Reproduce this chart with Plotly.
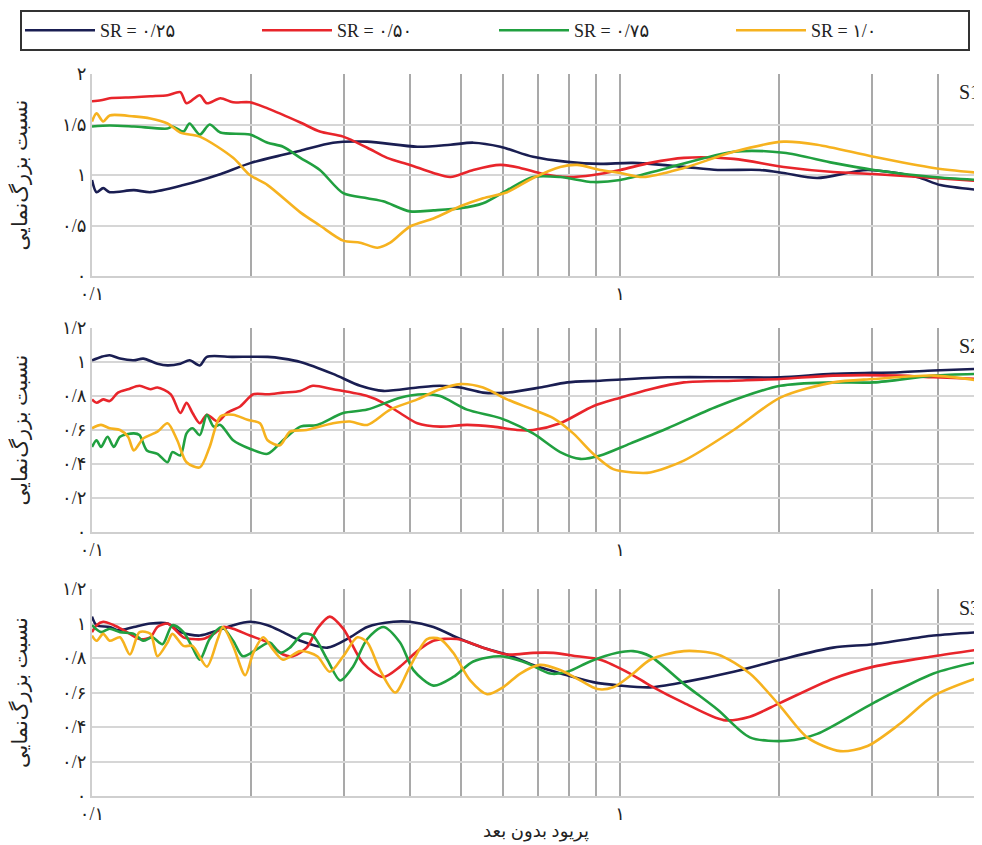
import plotly.graph_objects as go
from plotly.subplots import make_subplots
import math

# ---------------- data (period, amplification ratio) ----------------
series_names = ["SR = ۰/۲۵", "SR = ۰/۵۰", "SR = ۰/۷۵", "SR = ۱/۰"]
series_colors = ["#1a1e52", "#e8252b", "#21a040", "#f6b21f"]

# S1
s1_navy_T = [0.1, 0.102, 0.105, 0.108, 0.12, 0.129, 0.149, 0.173, 0.2, 0.23, 0.248, 0.286, 0.332, 0.413,
             0.477, 0.527, 0.593, 0.684, 0.794, 0.917, 1.058, 1.32, 1.53, 1.84, 2.04, 2.36, 2.94, 3.65, 4.04, 4.8]
s1_navy_y = [0.95, 0.83, 0.87, 0.83, 0.85, 0.83, 0.90, 1.00, 1.12, 1.20, 1.24, 1.32, 1.33, 1.28,
             1.30, 1.32, 1.28, 1.18, 1.13, 1.11, 1.12, 1.08, 1.05, 1.05, 1.02, 0.97, 1.05, 0.98, 0.90, 0.85]

s1_red_T = [0.1, 0.104, 0.108, 0.12, 0.129, 0.139, 0.147, 0.151, 0.160, 0.165, 0.175, 0.185, 0.199, 0.215,
            0.248, 0.270, 0.299, 0.332, 0.362, 0.400, 0.443, 0.477, 0.527, 0.593, 0.647, 0.715, 0.794, 0.889,
            1.0, 1.14, 1.32, 1.64, 2.04, 2.53, 3.02, 3.92, 4.8]
s1_red_y = [1.73, 1.74, 1.76, 1.77, 1.78, 1.79, 1.82, 1.71, 1.79, 1.71, 1.76, 1.72, 1.72, 1.66,
            1.52, 1.43, 1.38, 1.27, 1.17, 1.10, 1.02, 0.98, 1.05, 1.10, 1.07, 1.01, 0.98, 1.00,
            1.05, 1.12, 1.17, 1.16, 1.08, 1.03, 1.01, 0.97, 0.94]

s1_green_T = [0.1, 0.108, 0.12, 0.139, 0.142, 0.149, 0.153, 0.160, 0.167, 0.175, 0.199, 0.215, 0.230, 0.248,
              0.270, 0.299, 0.332, 0.356, 0.400, 0.443, 0.498, 0.550, 0.611, 0.684, 0.770, 0.889, 1.0, 1.23,
              1.64, 2.04, 2.53, 3.02, 3.92, 4.8]
s1_green_y = [1.48, 1.49, 1.48, 1.46, 1.48, 1.43, 1.51, 1.40, 1.50, 1.42, 1.40, 1.32, 1.28, 1.17,
              1.05, 0.82, 0.77, 0.74, 0.64, 0.65, 0.67, 0.72, 0.85, 0.98, 0.98, 0.93, 0.95, 1.07,
              1.23, 1.22, 1.12, 1.05, 0.98, 0.95]

s1_orange_T = [0.1, 0.102, 0.105, 0.108, 0.12, 0.129, 0.139, 0.147, 0.160, 0.185, 0.199, 0.215, 0.248, 0.270,
               0.299, 0.322, 0.347, 0.367, 0.400, 0.443, 0.498, 0.550, 0.611, 0.684, 0.770, 0.829, 0.917, 1.0,
               1.106, 1.32, 1.64, 2.04, 2.36, 3.02, 3.92, 4.8]
s1_orange_y = [1.53, 1.61, 1.53, 1.59, 1.58, 1.56, 1.51, 1.42, 1.38, 1.17, 1.00, 0.90, 0.63, 0.50,
               0.35, 0.33, 0.28, 0.33, 0.49, 0.57, 0.69, 0.77, 0.83, 0.97, 1.08, 1.10, 1.05, 1.02,
               0.98, 1.07, 1.23, 1.33, 1.30, 1.18, 1.07, 1.02]

# S2
s2_navy_T = [0.1, 0.104, 0.108, 0.113, 0.12, 0.125, 0.133, 0.139, 0.147, 0.153, 0.160, 0.165, 0.185, 0.215,
             0.230, 0.248, 0.286, 0.322, 0.356, 0.413, 0.456, 0.498, 0.550, 0.611, 0.705, 0.794, 0.917, 1.23,
             1.64, 2.01, 2.53, 3.39, 3.92, 4.8]
s2_navy_y = [1.01, 1.03, 1.04, 1.02, 1.01, 1.02, 0.99, 0.98, 0.99, 1.01, 0.98, 1.03, 1.03, 1.03,
             1.02, 1.00, 0.93, 0.86, 0.83, 0.85, 0.86, 0.85, 0.82, 0.82, 0.85, 0.88, 0.89, 0.91,
             0.91, 0.91, 0.93, 0.94, 0.95, 0.96]

s2_red_T = [0.1, 0.102, 0.105, 0.108, 0.112, 0.117, 0.123, 0.129, 0.133, 0.141, 0.147, 0.151, 0.155, 0.160,
            0.165, 0.173, 0.180, 0.191, 0.202, 0.215, 0.230, 0.248, 0.262, 0.286, 0.332, 0.356, 0.383, 0.413,
            0.456, 0.513, 0.575, 0.638, 0.684, 0.770, 0.889, 1.0, 1.14, 1.32, 1.64, 2.01, 2.53, 3.39, 3.92, 4.8]
s2_red_y = [0.78, 0.76, 0.78, 0.77, 0.82, 0.84, 0.86, 0.84, 0.85, 0.81, 0.70, 0.76, 0.70, 0.64,
            0.69, 0.65, 0.70, 0.74, 0.81, 0.81, 0.82, 0.83, 0.86, 0.84, 0.80, 0.76, 0.70, 0.64,
            0.62, 0.63, 0.62, 0.60, 0.60, 0.64, 0.74, 0.79, 0.84, 0.88, 0.89, 0.90, 0.92, 0.92, 0.91, 0.90]

s2_green_T = [0.1, 0.102, 0.104, 0.107, 0.110, 0.113, 0.12, 0.123, 0.127, 0.133, 0.139, 0.142, 0.147, 0.151,
              0.155, 0.160, 0.165, 0.170, 0.175, 0.185, 0.199, 0.215, 0.230, 0.248, 0.267, 0.299, 0.332, 0.383,
              0.424, 0.456, 0.513, 0.593, 0.684, 0.770, 0.840, 0.917, 1.044, 1.23, 1.53, 2.01, 2.53, 3.02,
              3.92, 4.8]
s2_green_y = [0.50, 0.54, 0.50, 0.56, 0.50, 0.56, 0.58, 0.57, 0.48, 0.46, 0.41, 0.47, 0.45, 0.58,
              0.61, 0.57, 0.69, 0.62, 0.63, 0.54, 0.49, 0.46, 0.54, 0.62, 0.63, 0.70, 0.72, 0.79,
              0.81, 0.80, 0.72, 0.67, 0.58, 0.47, 0.43, 0.45, 0.52, 0.61, 0.74, 0.86, 0.88, 0.88,
              0.92, 0.93]

s2_orange_T = [0.1, 0.104, 0.108, 0.113, 0.117, 0.12, 0.125, 0.133, 0.139, 0.145, 0.151, 0.160, 0.167, 0.175,
               0.185, 0.197, 0.208, 0.215, 0.227, 0.237, 0.255, 0.286, 0.308, 0.332, 0.367, 0.413, 0.456, 0.498,
               0.550, 0.611, 0.684, 0.747, 0.815, 0.889, 0.970, 1.058, 1.14, 1.32, 1.64, 2.01, 2.53, 3.02,
               3.92, 4.8]
s2_orange_y = [0.61, 0.63, 0.61, 0.60, 0.56, 0.48, 0.55, 0.59, 0.64, 0.54, 0.41, 0.38, 0.50, 0.68,
               0.69, 0.66, 0.64, 0.54, 0.51, 0.59, 0.60, 0.64, 0.65, 0.63, 0.72, 0.78, 0.84, 0.87,
               0.85, 0.78, 0.72, 0.67, 0.58, 0.46, 0.37, 0.35, 0.35, 0.42, 0.60, 0.79, 0.88, 0.90,
               0.92, 0.89]

# S3
s3_navy_T = [0.1, 0.102, 0.108, 0.112, 0.12, 0.129, 0.139, 0.147, 0.160, 0.173, 0.185, 0.199, 0.215, 0.230,
             0.248, 0.279, 0.308, 0.332, 0.372, 0.400, 0.443, 0.498, 0.550, 0.611, 0.684, 0.794, 0.889, 1.0,
             1.14, 1.32, 1.64, 2.01, 2.53, 3.02, 3.92, 4.8]
s3_navy_y = [1.04, 0.99, 0.98, 0.96, 0.98, 1.00, 1.00, 0.95, 0.93, 0.96, 0.99, 1.01, 0.99, 0.95,
             0.90, 0.86, 0.92, 0.98, 1.01, 1.01, 0.98, 0.91, 0.86, 0.82, 0.76, 0.70, 0.66, 0.64,
             0.63, 0.66, 0.72, 0.79, 0.86, 0.88, 0.93, 0.95]

s3_red_T = [0.1, 0.102, 0.105, 0.110, 0.115, 0.123, 0.129, 0.133, 0.139, 0.142, 0.149, 0.155, 0.162, 0.170,
            0.177, 0.185, 0.199, 0.215, 0.230, 0.240, 0.255, 0.267, 0.282, 0.299, 0.326, 0.356, 0.383, 0.413,
            0.443, 0.491, 0.550, 0.611, 0.684, 0.747, 0.829, 0.917, 1.044, 1.14, 1.32, 1.57, 1.76, 2.01,
            2.53, 3.02, 3.92, 4.8]
s3_red_y = [0.95, 0.99, 1.01, 0.99, 0.96, 0.91, 0.92, 0.98, 1.00, 0.98, 0.92, 0.91, 0.91, 0.94,
            0.98, 0.97, 0.93, 0.89, 0.82, 0.81, 0.86, 0.97, 1.04, 0.97, 0.77, 0.69, 0.75, 0.84,
            0.90, 0.91, 0.86, 0.82, 0.83, 0.83, 0.81, 0.79, 0.71, 0.64, 0.54, 0.44, 0.46, 0.54,
            0.68, 0.75, 0.81, 0.85]

s3_green_T = [0.1, 0.104, 0.108, 0.113, 0.12, 0.125, 0.130, 0.136, 0.142, 0.149, 0.155, 0.160, 0.167, 0.176,
              0.185, 0.193, 0.205, 0.217, 0.227, 0.237, 0.251, 0.262, 0.279, 0.295, 0.312, 0.332, 0.356, 0.383,
              0.406, 0.443, 0.483, 0.527, 0.593, 0.667, 0.737, 0.794, 0.877, 0.987, 1.058, 1.14, 1.32, 1.53,
              1.76, 2.07, 2.36, 3.02, 3.92, 4.8]
s3_green_y = [0.99, 0.95, 0.97, 0.95, 0.94, 0.90, 0.92, 0.88, 0.99, 0.95, 0.86, 0.79, 0.91, 0.98,
              0.90, 0.81, 0.85, 0.89, 0.83, 0.86, 0.94, 0.93, 0.79, 0.67, 0.75, 0.91, 0.98, 0.89,
              0.73, 0.64, 0.69, 0.78, 0.81, 0.77, 0.71, 0.72, 0.78, 0.83, 0.84, 0.81, 0.65, 0.50,
              0.34, 0.32, 0.36, 0.54, 0.71, 0.78]

s3_orange_T = [0.1, 0.102, 0.105, 0.108, 0.113, 0.118, 0.123, 0.129, 0.133, 0.139, 0.142, 0.149, 0.155, 0.165,
               0.173, 0.177, 0.185, 0.195, 0.202, 0.211, 0.220, 0.230, 0.248, 0.267, 0.282, 0.299, 0.318, 0.332,
               0.351, 0.375, 0.400, 0.431, 0.456, 0.483, 0.520, 0.560, 0.600, 0.647, 0.705, 0.770, 0.840, 0.905,
               0.970, 1.058, 1.14, 1.32, 1.53, 1.76, 2.01, 2.26, 2.61, 2.94, 3.39, 3.92, 4.8]
s3_orange_y = [0.93, 0.90, 0.94, 0.90, 0.92, 0.82, 0.95, 0.94, 0.81, 0.89, 0.94, 0.87, 0.87, 0.75,
               0.91, 0.98, 0.87, 0.70, 0.83, 0.92, 0.85, 0.79, 0.84, 0.81, 0.72, 0.81, 0.92, 0.89,
               0.73, 0.60, 0.75, 0.91, 0.91, 0.83, 0.67, 0.59, 0.63, 0.71, 0.76, 0.73, 0.67, 0.62,
               0.63, 0.71, 0.79, 0.84, 0.82, 0.71, 0.52, 0.34, 0.26, 0.29, 0.42, 0.58, 0.69]

panels = [
    ("S1", [(s1_navy_T, s1_navy_y), (s1_red_T, s1_red_y), (s1_green_T, s1_green_y), (s1_orange_T, s1_orange_y)]),
    ("S2", [(s2_navy_T, s2_navy_y), (s2_red_T, s2_red_y), (s2_green_T, s2_green_y), (s2_orange_T, s2_orange_y)]),
    ("S3", [(s3_navy_T, s3_navy_y), (s3_red_T, s3_red_y), (s3_green_T, s3_green_y), (s3_orange_T, s3_orange_y)]),
]

x_tickvals = [0.1, 0.2, 0.3, 0.4, 0.5, 0.6, 0.7, 0.8, 0.9, 1, 2, 3, 4]
x_ticktext = ["۰/۱", "", "", "", "", "", "", "", "", "۱", "", "", ""]
y1_tickvals = [0, 0.5, 1, 1.5, 2]
y1_ticktext = ["۰", "۰/۵", "۱", "۱/۵", "۲"]
y23_tickvals = [0, 0.2, 0.4, 0.6, 0.8, 1.0, 1.2]
y23_ticktext = ["۰", "۰/۲", "۰/۴", "۰/۶", "۰/۸", "۱", "۱/۲"]
x_max = 4.8
y_title = "نسبت بزرگ‌نمایی"
x_title = "پریود بدون بعد"

# ---------------- figure ----------------
fig = make_subplots(rows=3, cols=1, vertical_spacing=0.07)

for r, (label, series) in enumerate(panels, start=1):
    for i, (T, y) in enumerate(series):
        fig.add_trace(go.Scatter(
            x=T, y=y, mode="lines", name=series_names[i],
            line=dict(color=series_colors[i], width=2.6, shape="spline", smoothing=0.8),
            showlegend=(r == 1), legendgroup=series_names[i]), row=r, col=1)

font_main = "Liberation Serif, DejaVu Sans, serif"

# page body has an 8px margin: figure is offset by 8px in both directions
OFF = 8
FW, FH = 982 - OFF, 845 - OFF
top, bottom = 74.0, 796.0          # plot-area extent in page pixels
left, right = 92.0, 980.0
span = bottom - top
def dom(y_top, y_bot):
    return [(bottom - y_bot) / span, (bottom - y_top) / span]

domains = [dom(74, 276), dom(328, 532), dom(589, 796)]

for r in range(1, 4):
    xa = "xaxis" if r == 1 else f"xaxis{r}"
    ya = "yaxis" if r == 1 else f"yaxis{r}"
    fig.layout[xa].update(
        type="log", range=[-1, math.log10(x_max)], automargin=False,
        tickvals=x_tickvals, ticktext=x_ticktext, ticks="",
        showgrid=True, gridcolor="#a9a9a9", gridwidth=2,
        showline=True, linecolor="#cfcfcf", linewidth=2,
        zeroline=False, tickfont=dict(size=18, family=font_main, color="#222"))
    if r == 1:
        yt, ytt, yr = y1_tickvals, y1_ticktext, [0, 2]
    else:
        yt, ytt, yr = y23_tickvals, y23_ticktext, [0, 1.2]
    fig.layout[ya].update(
        domain=domains[r - 1], range=yr, tickvals=yt, ticktext=ytt, ticks="", automargin=False,
        showgrid=True, gridcolor="#d6d6d6", gridwidth=2,
        showline=True, linecolor="#cfcfcf", linewidth=2, zeroline=False,
        tickfont=dict(size=18, family=font_main, color="#222"),
        title=dict(text=y_title, font=dict(size=21, family=font_main, color="#222"), standoff=40))

fig.layout["xaxis3"].title = dict(text=x_title, font=dict(size=18, family=font_main, color="#222"), standoff=2)

for r, (label, _) in enumerate(panels, start=1):
    xr = "x domain" if r == 1 else f"x{r} domain"
    yr_ = "y domain" if r == 1 else f"y{r} domain"
    fig.add_annotation(text=label, xref=xr, yref=yr_, x=0.974, y=0.91, xanchor="left", yanchor="middle",
                       showarrow=False, font=dict(size=20, family="Liberation Serif, serif", color="#222"))

fig.update_layout(
    width=FW, height=FH,
    margin=dict(l=left - OFF, r=FW - (right - OFF), t=top - OFF, b=FH - (bottom - OFF), autoexpand=False),
    plot_bgcolor="white", paper_bgcolor="white",
    legend=dict(orientation="h", xref="paper", yref="paper",
                x=(20 - left) / (right - left), xanchor="left",
                y=(bottom - 10) / span, yanchor="top",
                bordercolor="#333", borderwidth=2,
                font=dict(size=18, family=font_main, color="#222"),
                entrywidth=152, itemwidth=70, bgcolor="white"),
)

fig.write_html("out.html")
